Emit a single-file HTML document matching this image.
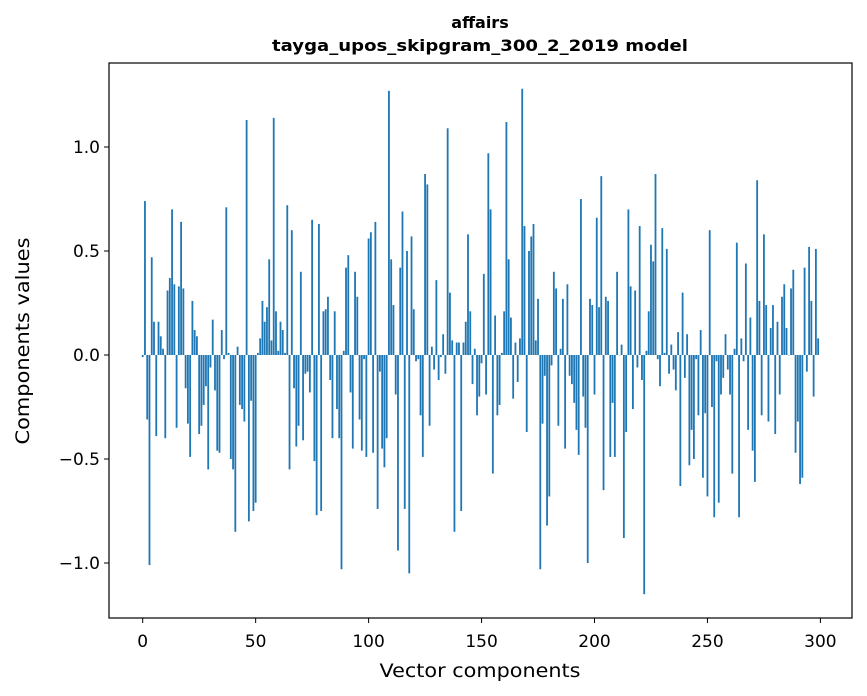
<!DOCTYPE html>
<html><head><meta charset="utf-8"><style>
body{margin:0;background:#fff}
svg{display:block;font-family:"DejaVu Sans","Liberation Sans",sans-serif}
</style></head><body>
<svg id="chart" width="867" height="696" viewBox="0 0 867 696">
<rect x="0" y="0" width="867" height="696" fill="#fff"/>
<text x="480" y="28" text-anchor="middle" font-size="16" font-weight="bold">affairs</text>
<text x="480" y="51" text-anchor="middle" font-size="16" font-weight="bold" textLength="416" lengthAdjust="spacingAndGlyphs">tayga_upos_skipgram_300_2_2019 model</text>
<g id="bars"></g>
<g id="axes"></g>
<rect x="109" y="63" width="743" height="555" fill="none" stroke="#000" stroke-width="1.2"/>
<text x="480" y="677" text-anchor="middle" font-size="19" textLength="201" lengthAdjust="spacingAndGlyphs">Vector components</text>
<text transform="translate(29,341) rotate(-90)" text-anchor="middle" font-size="19" textLength="207" lengthAdjust="spacingAndGlyphs">Components values</text>
</svg>
<script>
const values = [
-0.01,0.74,-0.31,-1.01,0.47,0.16,-0.39,0.16,0.09,0.03,
-0.40,0.31,0.37,0.70,0.34,-0.35,0.33,0.64,0.32,-0.16,
-0.33,-0.49,0.26,0.12,0.09,-0.38,-0.34,-0.24,-0.15,-0.55,
-0.06,0.17,-0.17,-0.46,-0.47,0.12,-0.02,0.71,0.01,-0.50,
-0.55,-0.85,0.04,-0.24,-0.26,-0.32,1.13,-0.80,-0.22,-0.75,
-0.71,0.01,0.08,0.26,0.16,0.23,0.46,0.07,1.14,0.21,
0.02,0.16,0.12,0.01,0.72,-0.55,0.60,-0.16,-0.44,-0.34,
0.40,-0.41,-0.09,-0.08,-0.18,0.65,-0.51,-0.77,0.63,-0.75,
0.21,0.22,0.28,-0.12,-0.40,0.21,-0.26,-0.40,-1.03,0.02,
0.42,0.48,-0.18,-0.45,0.40,0.28,-0.31,-0.46,-0.02,-0.49,
0.56,0.59,-0.47,0.64,-0.74,-0.08,-0.45,-0.54,-0.40,1.27,
0.46,0.24,-0.19,-0.94,0.42,0.69,-0.74,0.50,-1.05,0.57,
0.22,-0.03,-0.02,-0.29,-0.49,0.87,0.82,-0.34,0.04,-0.07,
0.36,-0.12,-0.01,0.10,-0.09,1.09,0.30,0.07,-0.85,0.06,
0.06,-0.75,0.06,0.16,0.58,0.21,-0.14,0.03,-0.29,-0.20,
-0.04,0.39,-0.19,0.97,0.70,-0.57,0.19,-0.29,-0.24,0.01,
0.21,1.12,0.46,0.18,-0.21,0.06,-0.13,0.08,1.28,0.62,
-0.37,0.50,0.57,0.63,0.07,0.27,-1.03,-0.33,-0.10,-0.82,
-0.68,-0.05,0.40,0.32,-0.34,0.03,0.27,-0.45,0.34,-0.10,
-0.14,-0.23,-0.36,-0.48,0.75,-0.20,-0.35,-1.00,0.27,0.24,
-0.19,0.66,0.23,0.86,-0.65,0.28,0.26,-0.49,-0.23,-0.49,
0.40,0.00,0.05,-0.88,-0.37,0.70,0.33,-0.26,0.31,-0.06,
0.62,-0.12,-1.15,0.02,0.21,0.53,0.45,0.87,-0.02,-0.15,
0.61,0.01,0.51,-0.09,0.05,-0.07,-0.17,0.11,-0.63,0.30,
-0.11,0.10,-0.53,-0.36,-0.50,-0.02,-0.29,0.12,-0.59,-0.28,
-0.68,0.60,-0.25,-0.78,-0.03,-0.71,-0.19,-0.11,0.10,-0.07,
-0.19,-0.57,0.03,0.54,-0.78,0.08,-0.03,0.44,-0.36,0.18,
-0.46,-0.61,0.84,0.26,-0.29,0.58,0.24,-0.32,0.13,0.24,
-0.38,0.16,-0.19,0.28,0.34,0.13,0.00,0.32,0.41,-0.47,
-0.32,-0.62,-0.59,0.42,-0.08,0.52,0.26,-0.20,0.51,0.08
];
const xTicks = [0,50,100,150,200,250,300];
const yTicks = [-1.0,-0.5,0.0,0.5,1.0];
const yTickLabels = ["\u22121.0","\u22120.5","0.0","0.5","1.0"];

const NS="http://www.w3.org/2000/svg";
function xs(v){return 142.7+v*2.259;}
function ys(v){return 355-v*208;}
const bars=document.getElementById('bars');
values.forEach((v,i)=>{
  const r=document.createElementNS(NS,'rect');
  const x0=xs(i-0.4), x1=xs(i+0.4);
  const y0=ys(Math.max(v,0)), y1=ys(Math.min(v,0));
  r.setAttribute('x',x0);r.setAttribute('width',x1-x0);
  r.setAttribute('y',y0);r.setAttribute('height',Math.max(y1-y0,0.3));
  r.setAttribute('fill','#1f77b4');
  
  
  bars.appendChild(r);
});
const axes=document.getElementById('axes');
xTicks.forEach(t=>{
  const x=xs(t);
  const l=document.createElementNS(NS,'line');
  l.setAttribute('x1',x);l.setAttribute('x2',x);l.setAttribute('y1',618);l.setAttribute('y2',623);
  l.setAttribute('stroke','#000');
  
  
  axes.appendChild(l);
  const tx=document.createElementNS(NS,'text');
  tx.setAttribute('x',x);tx.setAttribute('y',647);tx.setAttribute('text-anchor','middle');tx.setAttribute('font-size','17');
  tx.textContent=t;
  
  
  axes.appendChild(tx);
});
yTicks.forEach((t,k)=>{
  const y=ys(t);
  const l=document.createElementNS(NS,'line');
  l.setAttribute('x1',104);l.setAttribute('x2',109);l.setAttribute('y1',y);l.setAttribute('y2',y);
  l.setAttribute('stroke','#000');
  
  
  axes.appendChild(l);
  const tx=document.createElementNS(NS,'text');
  tx.setAttribute('x',100);tx.setAttribute('y',y+6);tx.setAttribute('text-anchor','end');tx.setAttribute('font-size','17');
  tx.textContent=yTickLabels[k];
  
  
  axes.appendChild(tx);
});
</script>
</body></html>
